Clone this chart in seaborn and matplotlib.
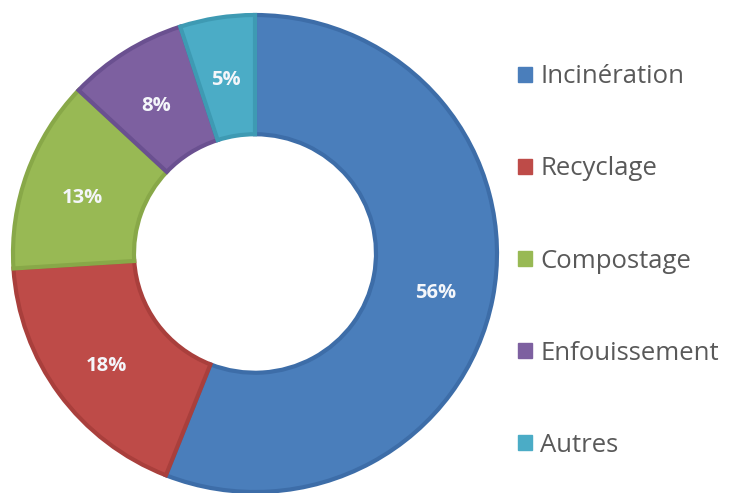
import matplotlib
matplotlib.use("Agg")
import matplotlib.pyplot as plt
import matplotlib.transforms as mtransforms
import seaborn as sns
from matplotlib.patches import Patch

categories = ["Incinération", "Recyclage", "Compostage", "Enfouissement", "Autres"]
values = [56, 18, 13, 8, 5]
fill_colors = ["#4A7EBB", "#BE4B48", "#98B954", "#7D60A0", "#4BACC6"]
edge_colors = ["#3D6DA8", "#A93F3C", "#88A848", "#6A5090", "#3E9AB3"]

sns.set_theme(style="white")
plt.rcParams["font.family"] = ["Open Sans", "DejaVu Sans"]
palette = sns.color_palette(fill_colors)

W, H = 731, 493
fig = plt.figure(figsize=(W / 100, H / 100), dpi=100)
fig.patch.set_facecolor("white")

# axes box in pixels
left, right, top, bottom = 13, 497, 15, 492
ax = fig.add_axes([left / W, (H - bottom) / H, (right - left) / W, (bottom - top) / H])

wedges, texts, autotexts = ax.pie(
    values,
    colors=palette,
    startangle=90,
    counterclock=False,
    autopct=lambda p: f"{p:.0f}%",
    pctdistance=0.76,
    radius=1.0,
    wedgeprops=dict(width=0.5, linewidth=3.0),
    textprops=dict(color="#F4F6FA", fontsize=14.5, fontweight="bold"),
)
for w, ec in zip(wedges, edge_colors):
    w.set_edgecolor(ec)
# nudge percentage labels slightly downward (as in the original rendering)
shift = mtransforms.offset_copy(ax.transData, fig=fig, x=0, y=-6, units="dots")
for t in autotexts:
    t.set_transform(shift)
ax.set_aspect("auto")
ax.set_xlim(-1.0, 1.0)
ax.set_ylim(-1.0, 1.0)
ax.axis("off")

handles = [Patch(facecolor=c, edgecolor=c) for c in fill_colors]
fig.legend(
    handles,
    categories,
    loc="center left",
    bbox_to_anchor=(508 / W, (H - 261) / H),
    frameon=False,
    fontsize=18.5,
    labelcolor="#595959",
    handlelength=0.55,
    handleheight=0.55,
    handletextpad=0.3,
    labelspacing=2.61,
    borderaxespad=0,
)

fig.savefig("out.png", dpi=100, facecolor="white")
